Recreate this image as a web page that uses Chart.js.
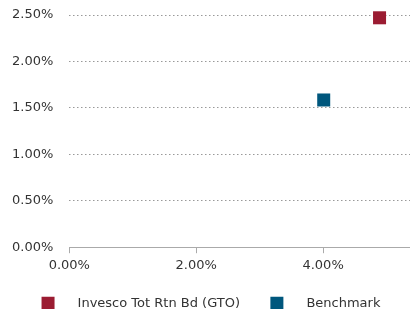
<!DOCTYPE html>
<html><head><meta charset="utf-8">
<script src="https://cdn.jsdelivr.net/npm/chart.js@4/dist/chart.umd.min.js"></script>
<style>html,body{margin:0;padding:0;background:#fff}#w{width:410px;height:309px}</style>
</head><body><div id="w"><canvas id="c"></canvas></div>
<script>
const seriesNames = ["Invesco Tot Rtn Bd (GTO)", "Benchmark"];
const seriesColors = ["#9b1c32", "#00577d"];
const riskX = [4.89, 4.01];     // x values (%)
const returnY = [2.47, 1.585];  // y values (%)
const xTicks = [0, 2, 4];
const yTicks = [0, 0.5, 1, 1.5, 2, 2.5];

Chart.defaults.font.family = "'DejaVu Sans', sans-serif";
Chart.defaults.font.size = 13;
Chart.defaults.color = "#333";

const datasets = seriesNames.map((n, i) => ({
  label: "    " + n + (i === 0 ? "   " : ""),
  data: [{x: riskX[i], y: returnY[i]}],
  backgroundColor: seriesColors[i],
  borderColor: seriesColors[i],
  borderWidth: 0,
  pointStyle: 'rect',
  pointRadius: 9.2,
  pointHoverRadius: 9.2,
  clip: false
}));

new Chart(document.getElementById('c'), {
  type: 'scatter',
  data: { datasets },
  options: {
    responsive: true, maintainAspectRatio: false, animation: false,
    layout: { autoPadding: false, padding: { left: 12, right: 0, top: 15, bottom: -10.8 } },
    plugins: {
      tooltip: { enabled: false },
      legend: {
        position: 'bottom',
        labels: { boxWidth: 13, boxHeight: 13, padding: 18, color: "#333" }
      }
    },
    scales: {
      x: {
        type: 'linear', min: 0, max: 5.37,
        afterBuildTicks: s => { s.ticks = xTicks.map(v => ({value: v})); },
        ticks: { callback: v => v.toFixed(2) + '%', padding: 5, color: "#333" },
        grid: { drawOnChartArea: false, drawTicks: true, tickLength: 6, color: "#aaa" },
        border: { display: true, color: "#aaa" }
      },
      y: {
        type: 'linear', min: 0, max: 2.5,
        afterBuildTicks: s => { s.ticks = yTicks.map(v => ({value: v})); },
        ticks: { callback: v => v.toFixed(2) + '%', padding: 0, color: "#333" },
        grid: { drawTicks: true, tickLength: 16, tickColor: 'rgba(0,0,0,0)', color: "#999", lineWidth: 1 },
        border: { display: false, dash: [1.5, 2.5] }
      }
    }
  }
});
</script></body></html>
